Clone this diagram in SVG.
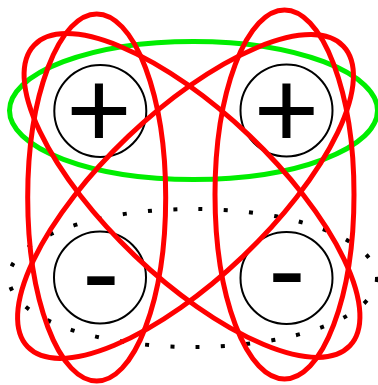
<svg xmlns="http://www.w3.org/2000/svg" width="378" height="385" viewBox="0 0 378 385">
  <style>
    .bg { fill: #ffffff; }
    .node { fill: #ffffff; stroke: #000000; stroke-width: 2; }
    .sign { font-family: "Liberation Sans", Arial, sans-serif; font-size: 112px; fill: #000000; text-anchor: middle; }
    .red { fill: none; stroke: #ff0000; stroke-width: 5; }
    .green { fill: none; stroke: #00ee00; stroke-width: 5; }
    .dots { fill: none; stroke: #000000; stroke-width: 4; stroke-dasharray: 4 21.3; }
  </style>
  <rect class="bg" x="0" y="0" width="378" height="385"/>
  <g id="sets">
    <ellipse class="green" cx="193.5" cy="110.5" rx="184" ry="69"/>
    <ellipse class="dots" cx="193" cy="278" rx="184" ry="69"/>
  </g>
  <g id="node-plus-left">
    <circle class="node" cx="100.3" cy="111" r="46"/>
    <text class="sign" x="99" y="148">+</text>
  </g>
  <g id="node-plus-right">
    <circle class="node" cx="286.5" cy="110.5" r="46"/>
    <text class="sign" x="286.5" y="148">+</text>
  </g>
  <g id="node-minus-left">
    <circle class="node" cx="100" cy="277.5" r="46"/>
    <text class="sign" x="101" y="309.6">-</text>
  </g>
  <g id="node-minus-right">
    <circle class="node" cx="286.5" cy="278" r="46"/>
    <text class="sign" x="287" y="306.6">-</text>
  </g>
  <g id="connectors">
    <ellipse class="red" cx="96.7" cy="197.5" rx="69" ry="183.5"/>
    <ellipse class="red" cx="284.5" cy="194.5" rx="69.5" ry="184.5"/>
    <ellipse class="red" cx="0" cy="0" rx="218" ry="83" transform="translate(192 195.5) rotate(43.6)"/>
    <ellipse class="red" cx="0" cy="0" rx="218" ry="83" transform="translate(185.5 196.5) rotate(-43.6)"/>
  </g>
</svg>
